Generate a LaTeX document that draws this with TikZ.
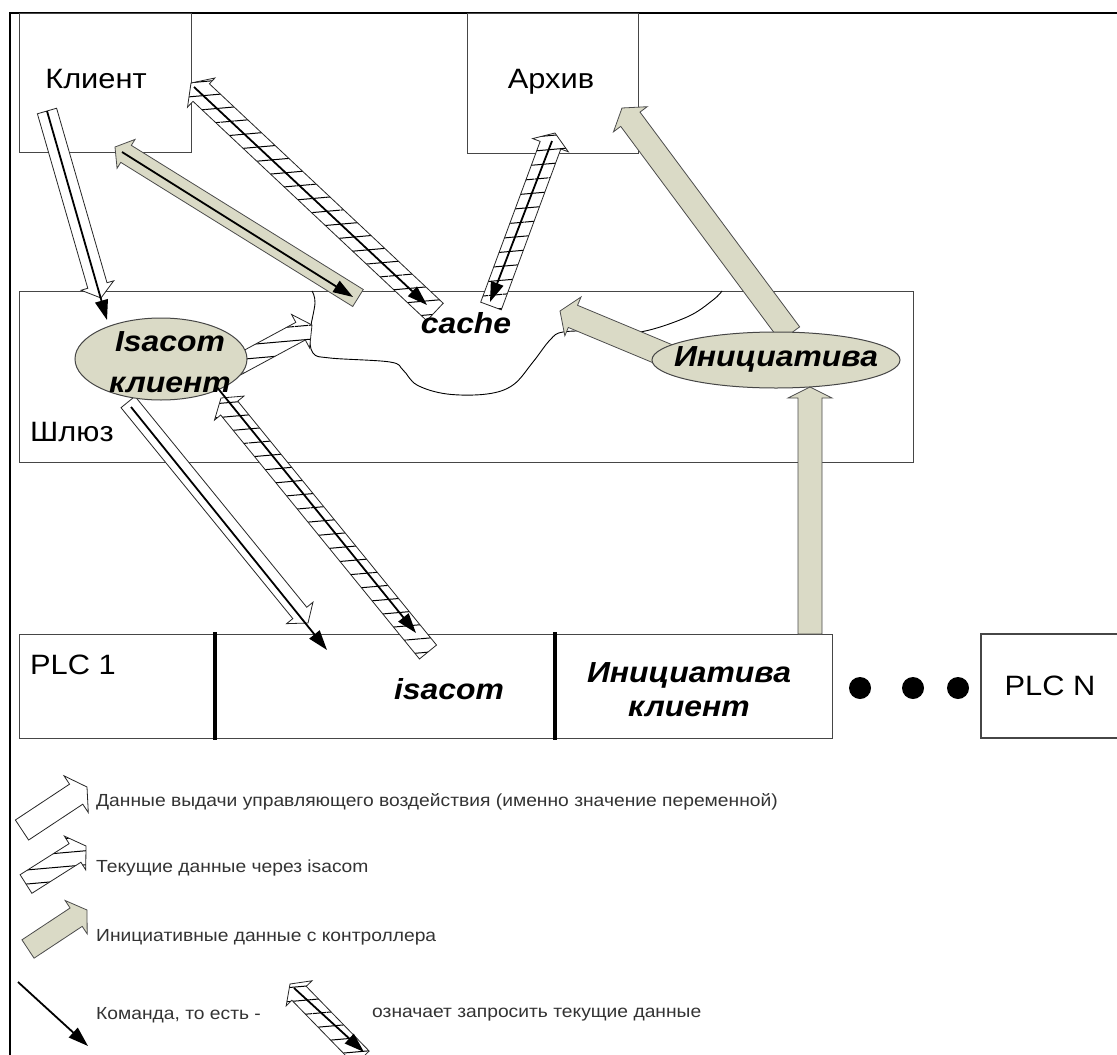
\documentclass[tikz,border=0pt]{standalone}
\usepackage{fontspec}
\setmainfont[FakeStretch=1.1]{Liberation Sans}
\usetikzlibrary{calc,arrows.meta,patterns.meta,shapes.geometric}
\definecolor{khaki}{RGB}{218,218,198}
\definecolor{edge}{RGB}{70,70,70}
\newcommand{\blockarr}[6]{%
  \coordinate (ba-b) at ($(#3)!#6!(#2)$);
  \path[#1] ($(#2)!#4!90:(#3)$) -- ($(ba-b)!#4!-90:(#2)$) -- ($(ba-b)!#5!-90:(#2)$) -- (#3)
    -- ($(ba-b)!#5!90:(#2)$) -- ($(ba-b)!#4!90:(#2)$) -- ($(#2)!#4!-90:(#3)$) -- cycle;}
\begin{document}
\begin{tikzpicture}[x=1pt,y=-1pt,
  box/.style={draw=edge,line width=1.2pt,inner sep=0,anchor=north west},
  ell/.style={ellipse,draw=edge,line width=1pt,fill=khaki,inner sep=0},
  wblk/.style={draw=black!85,line width=0.8pt,fill=white},
  hblk/.style={draw=black!85,line width=0.8pt,preaction={fill=white},pattern={Lines[angle=5,distance=14pt,line width=1pt]}},
  kblk/.style={draw=black!70,line width=0.8pt,fill=khaki},
  cmd/.style={line width=1.8pt,-{Triangle[length=20pt,width=13pt]}},
  lbl/.style={font=\fontsize{28}{32}\selectfont,inner sep=0},
  bi/.style={font=\fontsize{29}{41}\selectfont\bfseries\itshape,inner sep=0,align=center},
  leg/.style={font=\fontsize{17.5}{20}\selectfont,text=black!80,anchor=west,inner sep=0}]
\useasboundingbox (0,0) rectangle (1117,1055);
\fill[white] (0,0) rectangle (1117,1055);
% frame
\draw[line width=2.5pt] (1117,13) -- (10,13) -- (10,1055);
% boxes
\node[box,minimum width=172,minimum height=139] (klient) at (19,13) {};
\node[box,minimum width=171,minimum height=140] (arhiv) at (467,13) {};
\node[box,minimum width=894,minimum height=171] (shluz) at (19,291) {};
\node[box,minimum width=813,minimum height=104] (plc1) at (19,634) {};
\draw[line width=4pt] (215,632) -- (215,740);
\draw[line width=4pt] (555,632) -- (555,740);
\draw[draw=edge,line width=1.2pt] (1120,634) -- (981,634) -- (981,738) -- (1120,738);
\fill (860,688) circle (11pt);
\fill (913,688) circle (11pt);
\fill (958,688) circle (11pt);
% cache cloud
\draw[line width=0.9pt] plot[smooth,tension=0.6] coordinates {(312,291) (315,303) (310,333) (313,353) (330,358) (390,362) (403,370) (417,385) (447,394) (487,394) (513,385) (533,362) (550,340) (563,332) (600,331) (640,332) (687,317) (713,300) (722,291)};
% coordinates
\coordinate (a1t) at (47,111);  \coordinate (a1h) at (101,298); \coordinate (c1h) at (107,320);
\coordinate (a2t) at (435,312); \coordinate (a2h) at (191,83);  \coordinate (c2t) at (194,87);  \coordinate (c2h) at (427,305);
\coordinate (a3t) at (358,298); \coordinate (a3h) at (115,147); \coordinate (c3t) at (122,152); \coordinate (c3h) at (353,297);
\coordinate (a4t) at (491,306); \coordinate (a4h) at (555,133); \coordinate (c4t) at (552,141); \coordinate (c4h) at (490,302);
\coordinate (a5t) at (790,334); \coordinate (a5h) at (622,108);
\coordinate (a6t) at (668,356); \coordinate (a6h) at (560,311);
\coordinate (a7t) at (810,634); \coordinate (a7h) at (810,387);
\coordinate (a8t) at (236,366); \coordinate (a8h) at (312,325);
\coordinate (a9t) at (128,402); \coordinate (a9h) at (308,623); \coordinate (c9t) at (131,407); \coordinate (c9h) at (327,650);
\coordinate (a10t) at (428,652); \coordinate (a10h) at (221,398); \coordinate (c10t) at (216,386); \coordinate (c10h) at (416,633);
% block arrows
\blockarr{wblk}{a1t}{a1h}{10pt}{17pt}{13pt}
\blockarr{hblk}{a2t}{a2h}{12pt}{20pt}{14pt}
\blockarr{kblk}{a3t}{a3h}{10pt}{17pt}{13pt}
\blockarr{hblk}{a4t}{a4h}{11pt}{19pt}{13pt}
\blockarr{kblk}{a5t}{a5h}{12pt}{21pt}{14pt}
\blockarr{kblk}{a6t}{a6h}{12pt}{21pt}{14pt}
\blockarr{kblk}{a7t}{a7h}{12pt}{22pt}{11pt}
\blockarr{hblk}{a8t}{a8h}{10pt}{19pt}{13pt}
\blockarr{wblk}{a9t}{a9h}{9pt}{17pt}{13pt}
\blockarr{hblk}{a10t}{a10h}{11pt}{19pt}{13pt}
% ellipses
\node[ell,minimum width=172,minimum height=82] (isc) at (161,359) {};
\node[ell,minimum width=248,minimum height=56] (ini) at (776,360) {};
% command arrows
\draw[cmd] (a1t) -- (c1h);
\draw[cmd] (c2t) -- (c2h);
\draw[cmd] (c3t) -- (c3h);
\draw[cmd] (c4t) -- (c4h);
\draw[cmd] (c9t) -- (c9h);
\draw[cmd] (c10t) -- (c10h);
% texts
\node[lbl] (tkl) at (96,79) {Клиент};
\node[lbl] (tar) at (551,82) {Архив};
\node[lbl,anchor=west] (tsh) at (30,432) {Шлюз};
\node[bi] (tisc) at (170,362) {Isacom\\клиент};
\node[bi] (tcache) at (466,323) {cache};
\node[bi] (tini) at (776,359) {Инициатива};
\node[lbl,anchor=west] (tplc1) at (30,665) {PLC 1};
\node[bi] (tisa) at (449,689) {isacom};
\node[bi,font=\fontsize{29}{34}\selectfont\bfseries\itshape] (tinik) at (689,690) {Инициатива\\клиент};
\node[lbl] (tplcn) at (1050,686) {PLC N};
% legend
\coordinate (l1t) at (22,830); \coordinate (l1h) at (87,787);
\coordinate (l2t) at (26,884); \coordinate (l2h) at (86,846);
\coordinate (l3t) at (28,949); \coordinate (l3h) at (87,910);
\coordinate (l4t) at (18,982); \coordinate (l4h) at (88,1046);
\coordinate (l5t) at (362,1058); \coordinate (l5h) at (290,984);
\coordinate (l5ct) at (294,988); \coordinate (l5ch) at (364,1052);
\blockarr{wblk}{l1t}{l1h}{12pt}{22pt}{13pt}
\blockarr{hblk}{l2t}{l2h}{11pt}{20pt}{13pt}
\blockarr{kblk}{l3t}{l3h}{11pt}{20pt}{13pt}
\draw[cmd] (l4t) -- (l4h);
\blockarr{hblk}{l5t}{l5h}{10pt}{18pt}{13pt}
\draw[cmd] (l5ct) -- (l5ch);
\node[leg] (g1) at (96,802) {Данные выдачи управляющего воздействия (именно значение переменной)};
\node[leg] (g2) at (96,868) {Текущие данные через isacom};
\node[leg] (g3) at (96,937) {Инициативные данные с контроллера};
\node[leg] (g4) at (96,1015) {Команда, то есть -};
\node[leg] (g5) at (372,1015) {означает запросить текущие данные};
\end{tikzpicture}
\end{document}
